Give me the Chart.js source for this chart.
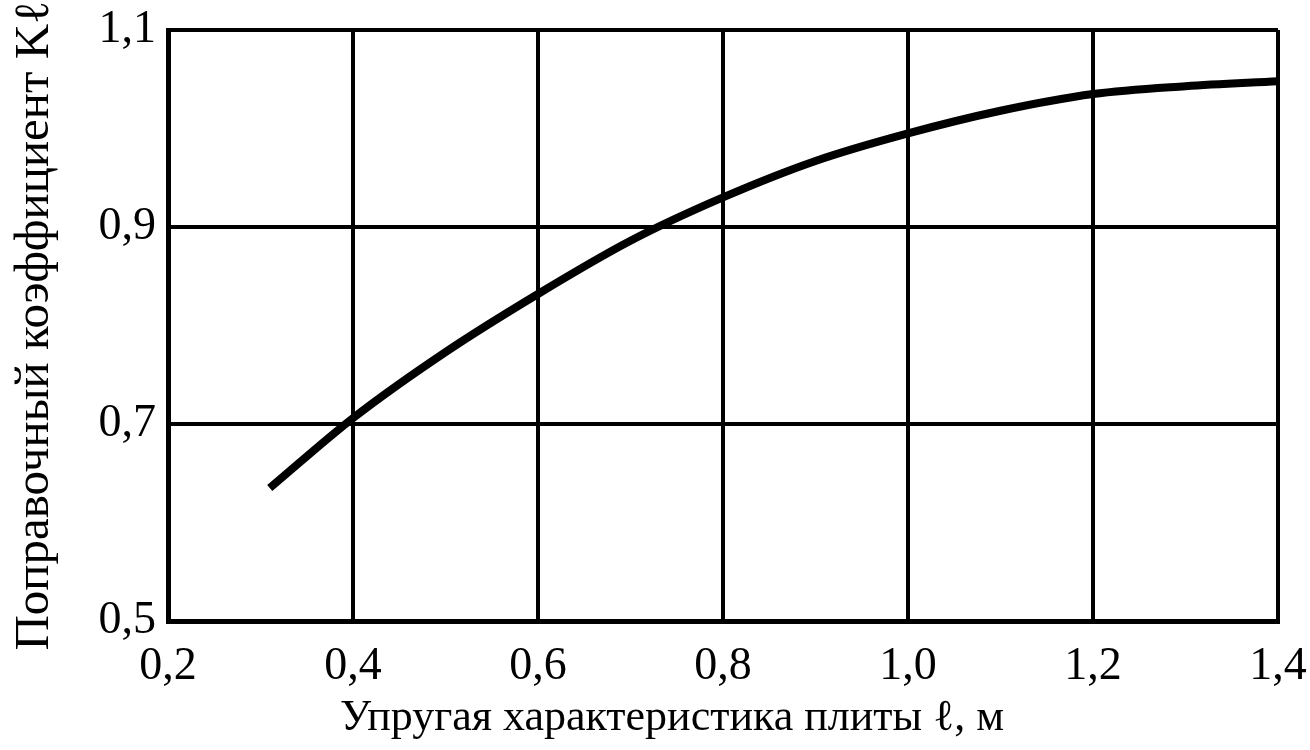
<!DOCTYPE html>
<html lang="ru">
<head>
  <meta charset="UTF-8" />
  <title>Поправочный коэффициент</title>
  <script src="https://cdn.jsdelivr.net/npm/chart.js"></script>
  <style>
    html, body {
      margin: 0;
      padding: 0;
      background: #fff;
    }
    #wrap {
      width: 1310px;
      height: 750px;
      position: relative;
    }
  </style>
</head>
<body>
  <div id="wrap"><canvas id="chart"></canvas></div>

  <script>
    // данные
    const lValues = [0.31, 0.4, 0.5, 0.6, 0.7, 0.8, 0.9, 1.0, 1.1, 1.2, 1.3, 1.4];
    const kValues = [0.635, 0.706, 0.773, 0.832, 0.886, 0.93, 0.967, 0.995, 1.018, 1.035, 1.043, 1.048];
    const xTicks = [0.2, 0.4, 0.6, 0.8, 1.0, 1.2, 1.4];
    const yTicks = [0.5, 0.7, 0.9, 1.1];

    const xTitle = 'Упругая характеристика плиты ℓ, м';
    const yTitle = 'Поправочный коэффициент Kℓ';

    const serif = "'Liberation Serif', 'Times New Roman', serif";
    const comma = v => Number(v).toFixed(1).replace('.', ',');

    // подпись оси X рисуем сами, чтобы сдвинуть её левее центра
    const xTitlePlugin = {
      id: 'xTitlePlugin',
      afterDraw(chart) {
        const ctx = chart.ctx;
        ctx.save();
        ctx.font = '44px ' + serif;
        ctx.fillStyle = '#000';
        ctx.textAlign = 'center';
        ctx.textBaseline = 'middle';
        ctx.fillText(xTitle, 672, 718);
        ctx.restore();
      }
    };

    new Chart(document.getElementById('chart'), {
      type: 'line',
      data: {
        datasets: [{
          data: lValues.map((x, i) => ({ x: x, y: kValues[i] })),
          borderColor: '#000',
          borderWidth: 8,
          pointRadius: 0,
          cubicInterpolationMode: 'monotone',
          fill: false
        }]
      },
      options: {
        responsive: true,
        maintainAspectRatio: false,
        animation: false,
        layout: { padding: { top: 30, right: 32, left: 0, bottom: 0 } },
        plugins: {
          legend: { display: false },
          tooltip: { enabled: false }
        },
        scales: {
          x: {
            type: 'linear',
            min: 0.2,
            max: 1.4,
            afterBuildTicks: s => { s.ticks = xTicks.map(v => ({ value: v })); },
            afterFit: s => { s.height = 129; s.paddingLeft = 0; s.paddingRight = 0; },
            grid: { color: '#000', lineWidth: 4, drawTicks: false },
            border: { color: '#000', width: 5 },
            ticks: {
              color: '#000',
              padding: 18,
              maxRotation: 0,
              font: { family: serif, size: 46 },
              callback: comma
            }
          },
          y: {
            min: 0.5,
            max: 1.1,
            afterBuildTicks: s => { s.ticks = yTicks.map(v => ({ value: v })); },
            afterFit: s => { s.width = 168; s.paddingTop = 0; s.paddingBottom = 0; },
            grid: { color: '#000', lineWidth: 4, drawTicks: false },
            border: { color: '#000', width: 5 },
            title: {
              display: true,
              text: yTitle,
              color: '#000',
              padding: { top: 6, bottom: 0 },
              font: { family: serif, size: 49 }
            },
            ticks: {
              color: '#000',
              padding: 12,
              font: { family: serif, size: 46 },
              callback: comma
            }
          }
        }
      },
      plugins: [xTitlePlugin]
    });
  </script>
</body>
</html>
